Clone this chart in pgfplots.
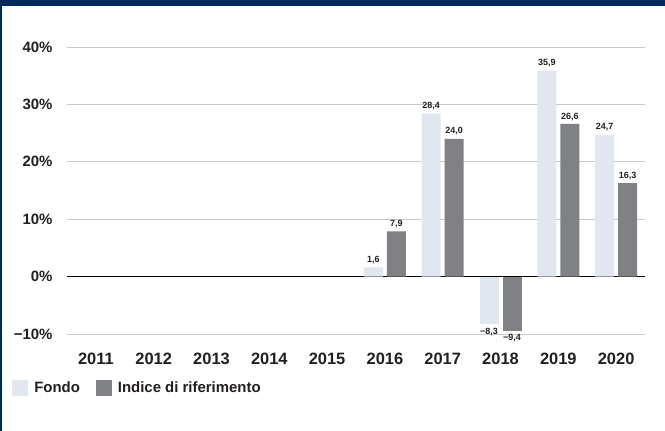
\documentclass[border=0pt]{standalone}
\usepackage{pgfplots}
\pgfplotsset{compat=1.18}
\usepackage{fontspec}
\setmainfont{Liberation Sans}
\definecolor{navy}{HTML}{002A5C}
\definecolor{fondo}{HTML}{E1E6F0}
\definecolor{indice}{HTML}{808185}
\definecolor{txt}{HTML}{231F20}
\definecolor{gridc}{HTML}{C8C8C8}
\begin{document}
\begin{tikzpicture}[x=1bp,y=1bp]
\fill[white] (-5,5) rectangle (670,-435);
\fill[navy] (-5,5) rectangle (670,-6);
\fill[navy] (-5,5) rectangle (2,-435);
\begin{axis}[
  at={(67bp,-334bp)}, anchor=south west,
  scale only axis, width=578bp, height=287bp,
  xmin=-0.5, xmax=9.5, ymin=-10, ymax=40,
  clip=false,
  ybar, bar width=19bp,
  axis line style={draw=none}, major tick style={draw=none},
  xtick={0,1,2,3,4,5,6,7,8,9},
  xticklabels={2011,2012,2013,2014,2015,2016,2017,2018,2019,2020},
  ytick={-10,0,10,20,30,40},
  yticklabels={−10\%,0\%,10\%,20\%,30\%,40\%},
  xticklabel style={font=\fontsize{16.5}{16.5}\selectfont\bfseries, text=txt, yshift=-11bp},
  yticklabel style={font=\fontsize{15}{15}\selectfont\bfseries, text=txt, xshift=-11bp},
  ymajorgrids, grid style={gridc, line width=1bp},
  extra y ticks={0}, extra y tick labels={},
  extra y tick style={grid style={black, line width=1.6bp}},
  point meta=explicit symbolic,
  nodes near coords,
  every node near coord/.append style={font=\fontsize{9}{9}\selectfont\bfseries, text=txt},
  legend image code/.code={\fill[#1] (0bp,-8bp) rectangle (16bp,8bp);},
  legend columns=2,
  legend style={at={(-0.095,-0.188)}, anchor=west, draw=none, fill=none, inner sep=0pt,
    font=\fontsize{15}{15}\selectfont\bfseries, text=txt,
    /tikz/every odd column/.append style={column sep=4bp},
    /tikz/every even column/.append style={column sep=14bp}},
]
\addplot[fill=fondo, draw=none, bar shift=-11.5bp] table[x=x, y=y, meta=l] {
x y l
5 1.6 1,6
6 28.4 28,4
8 35.9 35,9
9 24.7 24,7
};
\addlegendentry{Fondo}
\addplot[fill=indice, draw=none, bar shift=11.5bp] table[x=x, y=y, meta=l] {
x y l
5 7.9 7,9
6 24.0 24,0
8 26.6 26,6
9 16.3 16,3
};
\addlegendentry{Indice di riferimento}
\addplot[fill=fondo, draw=none, bar shift=-11.5bp, forget plot,
  every node near coord/.append style={anchor=north}] table[x=x, y=y, meta=l] {
x y l
7 -8.3 −8,3
};
\addplot[fill=indice, draw=none, bar shift=11.5bp, forget plot,
  every node near coord/.append style={anchor=north}] table[x=x, y=y, meta=l] {
x y l
7 -9.4 −9,4
};
\end{axis}
\pgfresetboundingbox
\path[use as bounding box] (0,0) rectangle (665,-430);
\end{tikzpicture}
\end{document}
